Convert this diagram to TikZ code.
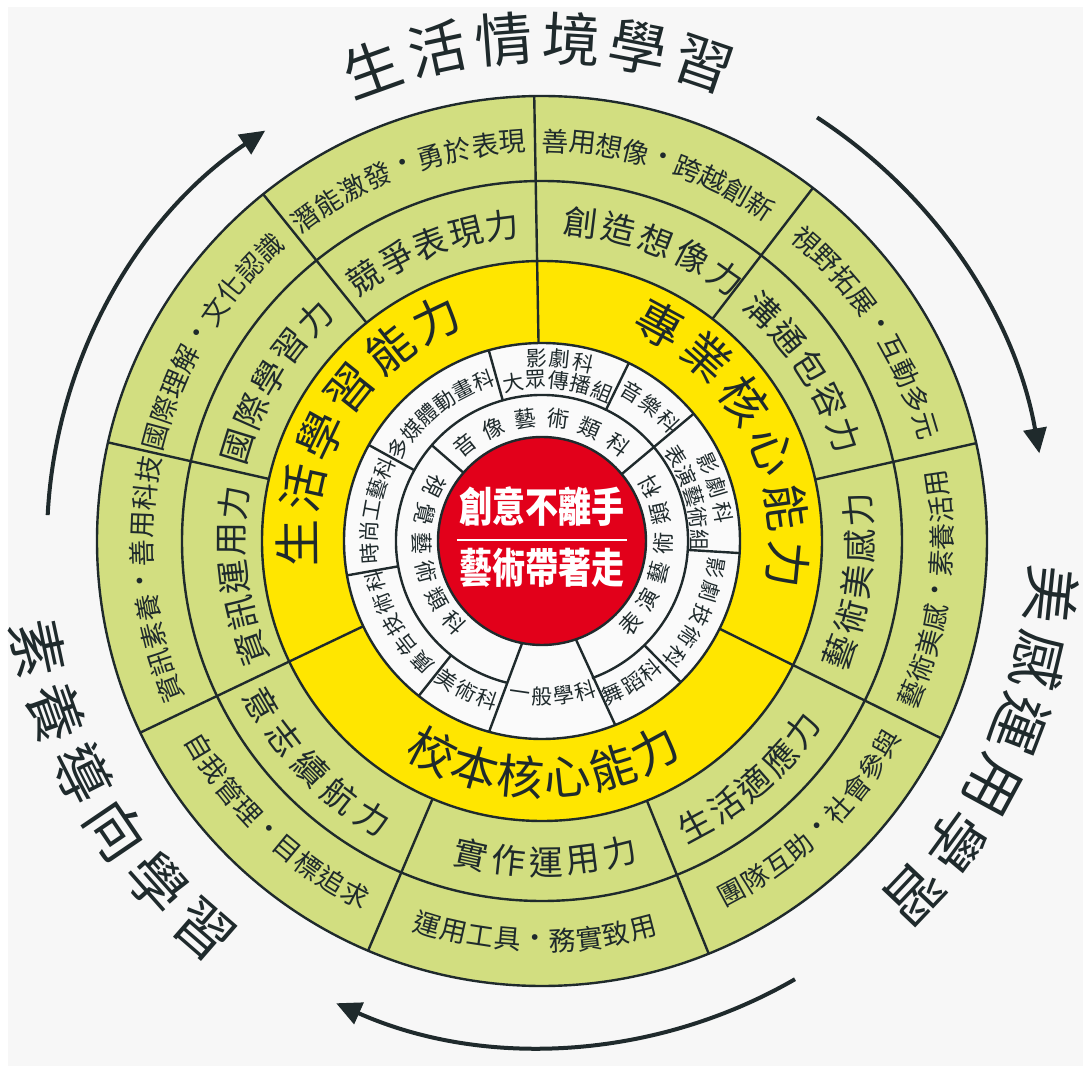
\documentclass[tikz,border=0pt]{standalone}
\usepackage{fontspec}
\setmainfont{Noto Sans CJK TC}
\usetikzlibrary{arrows.meta}

\definecolor{ink}{HTML}{1F2A2C}
\definecolor{leaf}{HTML}{D2DE80}
\definecolor{sun}{HTML}{FFE600}
\definecolor{heart}{HTML}{E2001A}
\definecolor{paper}{HTML}{F7F7F7}
\definecolor{ringwhite}{HTML}{FAFAFA}

\tikzset{
  heading/.style={font=\fontsize{29}{30}\selectfont},
  phrase/.style={font=\fontsize{13.5}{14}\selectfont},
  skill/.style={font=\fontsize{17}{18}\selectfont},
  pillar/.style={font=\fontsize{23.5}{24}\selectfont},
  dept/.style={font=\fontsize{10.5}{11}\selectfont},
  catlabel/.style={font=\fontsize{11}{12}\selectfont},
  divider/.style={ink, line width=1.2pt},
  flowarc/.style={ink, line width=2pt, -{Triangle[length=12.5pt,width=11.5pt]}},
}

% one node per character round the centre
\newcommand{\ringtext}[6][]{% [style]{name}{radius}{centre angle}{step}{chars}
  \foreach \ch [count=\n] in {#6}{\xdef\nchars{\n}}
  \foreach \ch [count=\k from 0] in {#6}{
    \pgfmathsetmacro{\ang}{#4+(\k-(\nchars-1)/2)*(#5)}
    \pgfmathsetmacro{\rot}{\ang+((#5)<0?-90:90)}
    \node[#1, text=ink, inner sep=0pt, rotate=\rot] (#2-\k) at (\ang:#3) {\ch};
  }}

\begin{document}
\begin{tikzpicture}[x=0.5pt,y=0.5pt]
    %page
    \useasboundingbox (-542,-525) rectangle (541,541);
    \fill[white] (-542,-525) rectangle (541,541);
    \fill[paper] (-534,-525) rectangle (541,534);

    %rings
    \fill[leaf] (0,0) circle (445);
    \fill[sun] (0,0) circle (280);
    \fill[ringwhite] (0,0) circle (198);
    \draw[divider] (0,0) circle (445);
    \draw[divider] (0,0) circle (360);
    \draw[divider] (0,0) circle (280);
    \draw[divider] (0,0) circle (198);
    \draw[divider] (-70:146) arc[start angle=-70, end angle=256, radius=146];
    \fill[heart] (0,0) circle (104);
    \draw[divider] (0,0) circle (104);

    %draw lines
    \foreach \a in {91,52.5,12.7,-26.3,-68,-113,205.5,167.2,128.8}
        \draw[divider] (\a:280) -- (\a:445);
    \foreach \a in {91,-26.3,205.5}
        \draw[divider] (\a:198) -- (\a:280);
    \foreach \a in {151,105.6,64,-3.5,-45.5,231.5,190}
        \draw[divider] (\a:146) -- (\a:198);
    \draw[divider] (40:104) -- (40:198);
    \draw[divider] (-71:104) -- (-68.3:198);
    \draw[divider] (-101:104) -- (-105.5:198);
    \draw[divider] (139:104) -- (139:146);

    %centre
    \node[font=\fontsize{16.5}{17}\selectfont\bfseries, text=white, yscale=1.25] (motto1) at (0,34) {創意不離手};
    \node[font=\fontsize{16.5}{17}\selectfont\bfseries, text=white, yscale=1.25] (motto2) at (0,-27) {藝術帶著走};
    \draw[white, line width=1pt] (-85,1) -- (85,1);

    %outer titles and arrows
    \ringtext[heading]{title1}{503}{90.5}{-7.7}{生,活,情,境,學,習}
    \ringtext[heading]{title2}{512}{-24.75}{-7.5}{美,感,運,用,學,習}
    \ringtext[heading]{title3}{515}{210.5}{7.4}{素,養,導,向,學,習}
    \draw[flowarc] (177:495) arc[start angle=177, end angle=124, radius=495];
    \draw[flowarc] (57:505) arc[start angle=57, end angle=10, radius=505];
    \draw[flowarc] (-60:506) arc[start angle=-60, end angle=-114, radius=506];

    %outer green ring
    \ringtext[phrase]{p1}{400}{110.2}{-4.0}{潛,能,激,發,·,勇,於,表,現}
    \ringtext[phrase]{p2}{400}{72.5}{-3.9}{善,用,想,像,·,跨,越,創,新}
    \ringtext[phrase]{p3}{400}{32.7}{-4.0}{視,野,拓,展,·,互,動,多,元}
    \ringtext[phrase]{p4}{400}{-7.1}{3.85}{藝,術,美,感,·,素,養,活,用}
    \ringtext[phrase]{p5}{400}{-46}{3.9}{團,隊,互,助,·,社,會,參,與}
    \ringtext[phrase]{p6}{400}{-91}{3.9}{運,用,工,具,·,務,實,致,用}
    \ringtext[phrase]{p7}{400}{226.5}{3.9}{自,我,管,理,·,目,標,追,求}
    \ringtext[phrase]{p8}{400}{185.7}{-4.0}{資,訊,素,養,·,善,用,科,技}
    \ringtext[phrase]{p9}{400}{148.9}{-4.0}{國,際,理,解,·,文,化,認,識}

    %inner green ring
    \ringtext[skill]{s1}{318}{110.6}{-6.7}{競,爭,表,現,力}
    \ringtext[skill]{s2}{321}{69.1}{-7.0}{創,造,想,像,力}
    \ringtext[skill]{s3}{320}{32.8}{-6.75}{溝,通,包,容,力}
    \ringtext[skill]{s4}{318}{-7.4}{6.5}{藝,術,美,感,力}
    \ringtext[skill]{s5}{322}{-48.8}{6.4}{生,活,適,應,力}
    \ringtext[skill]{s6}{321}{-89.3}{6.7}{實,作,運,用,力}
    \ringtext[skill]{s7}{325}{224.5}{7.1}{意,志,續,航,力}
    \ringtext[skill]{s8}{310}{186.6}{-6.8}{資,訊,運,用,力}
    \ringtext[skill]{s9}{318}{149.2}{-6.8}{國,際,學,習,力}

    %yellow ring
    \ringtext[pillar]{c1}{245}{148}{-13}{生,活,學,習,能,力}
    \ringtext[pillar]{c2}{247}{28}{-13.4}{專,業,核,心,能,力}
    \ringtext[pillar]{c3}{237}{270.5}{11.2}{校,本,核,心,能,力}

    %white rings
    \ringtext[dept]{d1}{171}{128.5}{-7.4}{多,媒,體,動,畫,科}
    \ringtext[dept]{d2a}{183}{84.3}{-7.3}{影,劇,科}
    \ringtext[dept]{d2b}{161}{84.2}{-8.1}{大,眾,傳,播,組}
    \ringtext[dept]{d3}{174}{51.2}{-7.8}{音,樂,科}
    \ringtext[dept]{d4a}{183}{17}{-8}{影,劇,科}
    \ringtext[dept]{d4b}{158}{16.4}{-8}{表,演,藝,術,組}
    \ringtext[dept]{d5}{176}{-25}{-8.1}{影,劇,技,術,科}
    \ringtext[dept]{d6}{169}{-57.5}{7.6}{舞,蹈,科}
    \ringtext[dept]{d7}{156}{-86}{8.2}{一,般,學,科}
    \ringtext[dept]{d8}{168}{243.2}{7.6}{美,術,科}
    \ringtext[dept]{d9}{171}{209.5}{-8}{廣,告,技,術,科}
    \ringtext[dept]{d10}{173}{169.7}{-7.2}{時,尚,工,藝,科}
    \ringtext[catlabel]{g1}{123}{90.2}{-15.4}{音,像,藝,術,類,科}
    \ringtext[catlabel]{g2}{120}{188}{14}{視,覺,藝,術,類,科}
    \ringtext[catlabel]{g3}{121}{-8}{14}{表,演,藝,術,類,科}
\end{tikzpicture}
\end{document}
